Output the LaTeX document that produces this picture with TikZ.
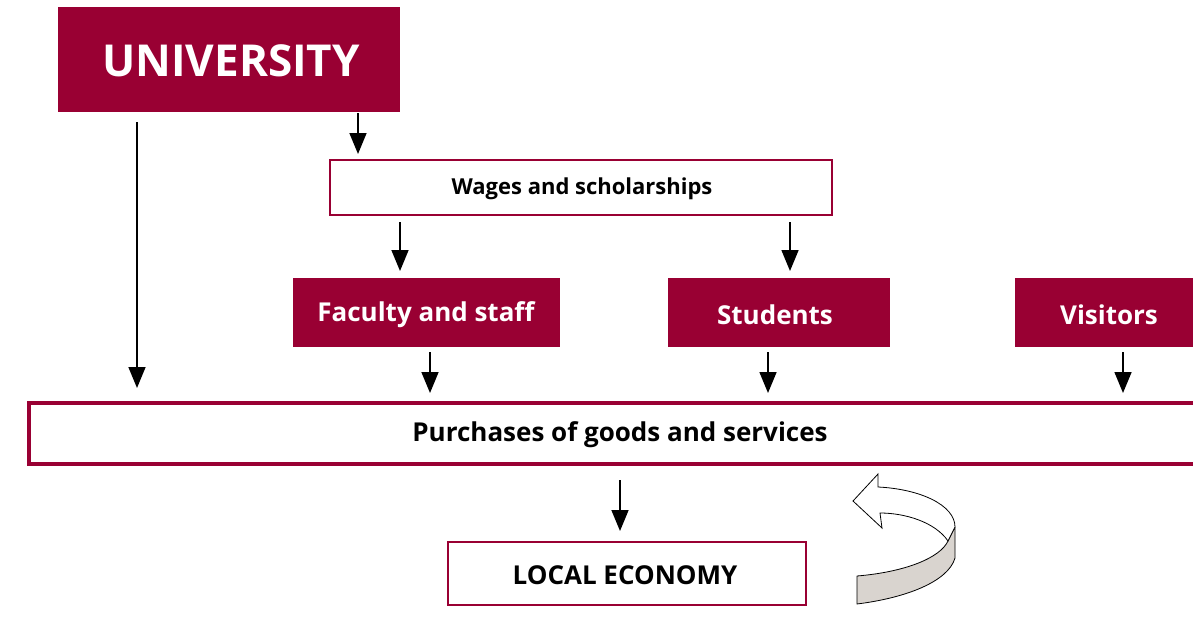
\documentclass[tikz,border=0pt]{standalone}
\usepackage{fontspec}
\setmainfont{Open Sans}
\usetikzlibrary{arrows.meta}
\definecolor{maroon}{HTML}{990033}
\definecolor{bandgrey}{HTML}{D9D4CF}
\begin{document}
\begin{tikzpicture}[x=1pt,y=-1pt,
  filledbox/.style={fill=maroon,draw=none,text=white,font=\bfseries},
  openbox/.style={fill=white,draw=maroon,text=black,font=\bfseries},
  flow/.style={line width=1.6pt,-{Triangle[width=17pt,length=21pt]}}]
\useasboundingbox (0,0) rectangle (1193,629);
% boxes
\path[filledbox] (58,7) rectangle (400,112);
\node[text=white,font=\fontsize{44}{50}\selectfont\bfseries] (uni) at (231,61) {UNIVERSITY};
\draw[openbox,line width=2pt] (330,160) rectangle (832,215);
\node[font=\fontsize{22}{26}\selectfont\bfseries] (wages) at (582,189) {Wages and scholarships};
\path[filledbox] (293,278) rectangle (560,347);
\node[text=white,font=\fontsize{26}{30}\selectfont\bfseries] (fac) at (426,315) {Faculty and staff};
\path[filledbox] (668,278) rectangle (890,347);
\node[text=white,font=\fontsize{26}{30}\selectfont\bfseries] (stu) at (775,315) {Students};
\path[filledbox] (1015,278) rectangle (1200,347);
\node[text=white,font=\fontsize{26}{30}\selectfont\bfseries] (vis) at (1109,315) {Visitors};
\draw[openbox,line width=4pt] (29,403) rectangle (1205,464);
\node[font=\fontsize{26}{30}\selectfont\bfseries] (pur) at (620,435) {Purchases of goods and services};
\draw[openbox,line width=2pt] (448,542) rectangle (806,605);
\node[font=\fontsize{26}{30}\selectfont\bfseries] (loc) at (625,575) {LOCAL ECONOMY};
% arrows
\draw[flow] (137,122) -- (137,388);
\draw[flow] (358,113) -- (358,154);
\draw[flow] (400,222) -- (400,271);
\draw[flow] (790,222) -- (790,271);
\draw[flow] (430,352) -- (430,393);
\draw[flow] (768,352) -- (768,393);
\draw[flow] (1123,352) -- (1123,393);
\draw[flow] (620,480) -- (620,531);
% curved 3D arrow
\draw[fill=bandgrey,line width=0.8pt,line join=round]
  (857,576) .. controls (905,572) and (940,558) .. (948,541)
  -- (955,527) -- (955,558)
  .. controls (948,582) and (905,598) .. (857,604) -- cycle;
\draw[fill=white,line width=0.8pt,line join=miter]
  (948,541) .. controls (935,522) and (905,513) .. (880,513)
  -- (882,528) -- (853,501) -- (878,474) -- (878,487)
  .. controls (920,489) and (955,505) .. (955,527) -- cycle;
\end{tikzpicture}
\end{document}
